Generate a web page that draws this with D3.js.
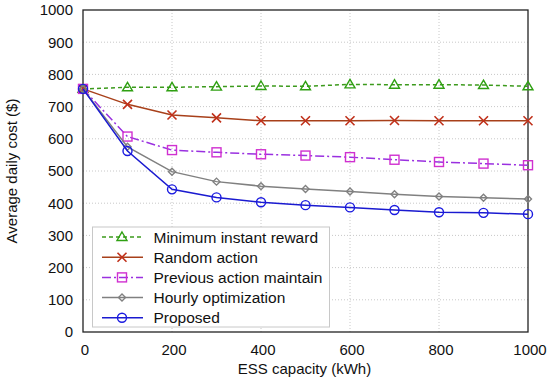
<!DOCTYPE html>
<html><head><meta charset="utf-8">
<script src="https://cdn.jsdelivr.net/npm/d3@7"></script>
<style>body{margin:0;background:#fff}svg{display:block;font-family:"Liberation Sans",Arial,sans-serif}</style>
</head><body><svg id="c" width="550" height="387"></svg>
<script>
const capacity = [0,100,200,300,400,500,600,700,800,900,1000];
const minInstant = [755,760,760,762,764,763,769,768,768,767,763];
const randomAction = [755,707,674,665,656,656,656,657,656,656,656];
const prevMaintain = [755,607,565,558,552,548,543,535,528,523,518];
const hourlyOpt = [755,575,498,467,453,444,436,428,421,417,413];
const proposed = [755,562,443,418,403,394,387,379,372,370,366];
const xTicks = [0,200,400,600,800,1000];
const yTicks = [0,100,200,300,400,500,600,700,800,900,1000];
const seriesNames = ["Minimum instant reward","Random action","Previous action maintain","Hourly optimization","Proposed"];

const series = [
  {name:seriesNames[0], v:minInstant, line:"#3c9a1c", mk:"#2fa012", dash:"4,3", shape:"tri"},
  {name:seriesNames[1], v:randomAction, line:"#a8401a", mk:"#c0301a", dash:null, shape:"x"},
  {name:seriesNames[2], v:prevMaintain, line:"#9a30e0", mk:"#d030d0", dash:"9,3,2,3", shape:"sq"},
  {name:seriesNames[3], v:hourlyOpt, line:"#808080", mk:"#808080", dash:null, shape:"dia"},
  {name:seriesNames[4], v:proposed, line:"#1a1ad0", mk:"#1a1ae0", dash:null, shape:"circ"}
];

const svg = d3.select("#c");
const L=83, R=528, T=10, B=332;
const x = d3.scaleLinear().domain([0,1000]).range([L,R]);
const y = d3.scaleLinear().domain([0,1000]).range([B,T]);

// grid
const g = svg.append("g");
g.selectAll(".gy").data(yTicks.slice(1,-1)).enter().append("line")
 .attr("x1",L).attr("x2",R).attr("y1",d=>y(d)).attr("y2",d=>y(d))
 .attr("stroke","#c8c8c8").attr("stroke-width",1).attr("stroke-dasharray","1,2");
g.selectAll(".gx").data(xTicks.slice(1,-1)).enter().append("line")
 .attr("y1",T).attr("y2",B).attr("x1",d=>x(d)).attr("x2",d=>x(d))
 .attr("stroke","#c8c8c8").attr("stroke-width",1).attr("stroke-dasharray","1,2");

// axes
const ax = svg.append("g").attr("transform",`translate(0,${B})`)
 .call(d3.axisBottom(x).tickValues(xTicks).tickFormat(d3.format("d")).tickSize(0).tickPadding(10));
const ay = svg.append("g").attr("transform",`translate(${L},0)`)
 .call(d3.axisLeft(y).tickValues(yTicks).tickFormat(d3.format("d")).tickSize(0).tickPadding(10));
[ax,ay].forEach(a=>{a.select(".domain").remove();a.selectAll("text").attr("font-size",15).attr("fill","#111").attr("font-family","Liberation Sans, Arial, sans-serif");});
ax.selectAll("text").attr("dy","0.85em").attr("dx",1.5);
svg.append("rect").attr("x",L).attr("y",T).attr("width",R-L).attr("height",B-T)
 .attr("fill","none").attr("stroke","#222").attr("stroke-width",1.3);

svg.append("text").attr("x",304.5).attr("y",374).attr("text-anchor","middle")
 .attr("font-size",15).attr("fill","#111").text("ESS capacity (kWh)");
svg.append("text").attr("transform",`translate(17,${(T+B)/2}) rotate(-90)`).attr("text-anchor","middle")
 .attr("font-size",15).attr("fill","#111").text("Average daily cost ($)");

function marker(sel, s, cx, cy){
  const st = {fill:"none", stroke:s.mk, "stroke-width":1.4};
  let m;
  if(s.shape==="tri") m = sel.append("path").attr("d",`M${cx},${cy-5}L${cx+5},${cy+3.5}L${cx-5},${cy+3.5}Z`);
  else if(s.shape==="x") m = sel.append("path").attr("d",`M${cx-4.5},${cy-4.5}L${cx+4.5},${cy+4.5}M${cx-4.5},${cy+4.5}L${cx+4.5},${cy-4.5}`);
  else if(s.shape==="sq") m = sel.append("rect").attr("x",cx-4.5).attr("y",cy-4.5).attr("width",9).attr("height",9);
  else if(s.shape==="dia") m = sel.append("path").attr("d",`M${cx},${cy-3.5}L${cx+3.5},${cy}L${cx},${cy+3.5}L${cx-3.5},${cy}Z`);
  else m = sel.append("circle").attr("cx",cx).attr("cy",cy).attr("r",4.5);
  Object.entries(st).forEach(([k,v])=>m.attr(k,v));
  if(s.shape==="x") m.attr("stroke-width",1.6);
}

const line = d3.line().x((d,i)=>x(capacity[i])).y(d=>y(d));
series.forEach(s=>{
  const gg = svg.append("g");
  gg.append("path").attr("d",line(s.v)).attr("fill","none").attr("stroke",s.line)
    .attr("stroke-width",1.5).attr("stroke-dasharray",s.dash);
  s.v.forEach((v,i)=>marker(gg,s,x(capacity[i]),y(v)));
});

// legend
const lg = svg.append("g");
lg.append("rect").attr("x",92.5).attr("y",227).attr("width",237).attr("height",100)
  .attr("fill","#fff").attr("stroke","#c8c8c8").attr("stroke-width",1);
series.forEach((s,i)=>{
  const yy = 237 + i*20.2;
  lg.append("line").attr("x1",102).attr("x2",143).attr("y1",yy).attr("y2",yy)
    .attr("stroke",s.line).attr("stroke-width",1.5).attr("stroke-dasharray",s.dash);
  marker(lg,s,122,yy);
  lg.append("text").attr("x",153.5).attr("y",yy).attr("dy","0.36em").attr("font-size",15.5)
    .attr("fill","#111").text(s.name);
});
</script></body></html>
